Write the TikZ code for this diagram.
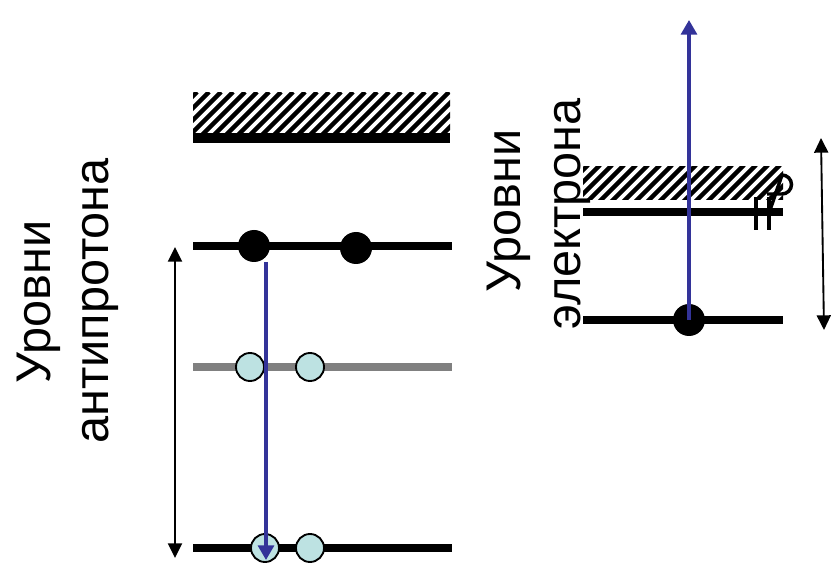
\documentclass[tikz,border=0pt]{standalone}
\usepackage{fontspec}
\setmainfont{Liberation Sans}
\usetikzlibrary{arrows.meta}
\definecolor{holefill}{HTML}{BDE2E2}
\definecolor{transblue}{HTML}{333399}
\begin{document}
\begin{tikzpicture}[x=0.75pt,y=-0.75pt,
  level/.style={line width=6pt},
  glevel/.style={line width=6pt, draw=gray},
  hatchline/.style={line width=3.4pt},
  particle/.style={circle, fill=black, minimum size=24pt, inner sep=0pt},
  hole/.style={circle, draw=black, line width=1.4pt, fill=holefill, minimum size=21pt, inner sep=0pt},
  span/.style={line width=1.4pt, {Triangle[width=10.5pt,length=11pt]}-{Triangle[width=10.5pt,length=11pt]}},
  transition/.style={line width=2.4pt, draw=transblue, -{Triangle[width=12pt,length=11pt]}},
  caption/.style={rotate=90, anchor=base, font=\fontsize{36.5pt}{42pt}\selectfont, inner sep=0pt}]
\useasboundingbox (0,0) rectangle (831,566);

% ---------- antiproton levels ----------
\begin{scope}
  \clip (193,93) rectangle (450,134);
  \foreach \i in {0,...,26} \draw[hatchline] (153+\i*12,136) -- ++(44,-44);
\end{scope}
\draw[line width=7pt] (193,138) -- (450,138);

\draw[level]  (193,246) -- (452,246);
\draw[glevel] (193,367) -- (452,367);
\draw[level]  (193,548) -- (452,548);

\node[particle] (pa) at (254,246) {};
\node[particle] (pb) at (356,248) {};
\node[hole] (ha) at (250,367) {};
\node[hole] (hb) at (310,367) {};
\node[hole] (hc) at (265,548) {};
\node[hole] (hd) at (310,548) {};

\coordinate (ltop) at (175,247);
\coordinate (lbot) at (175,558);
\draw[span] (ltop) -- (lbot);

\coordinate (dstart) at (266,262);
\coordinate (dend) at (266,560);
\draw[transition] (dstart) -- (dend);

\node[caption] (capa1) at (50,302) {Уровни};
\node[caption] (capa2) at (108,301) {антипротона};

% ---------- electron levels ----------
\begin{scope}
  \clip (583,167) rectangle (783,200);
  \foreach \i in {0,...,19} \draw[hatchline] (550+\i*12,203) -- ++(38,-38);
\end{scope}
\draw[level] (583,212) -- (783,212);
\draw[level] (583,320) -- (783,320);

\node[particle] (ea) at (689,320) {};

% small mark at the end of the upper electron level
\draw[line width=2.6pt] (756,197) -- (756,230);
\draw[line width=2.6pt] (769,197) -- (769,230);
\draw[line width=2.6pt] (767,194) -- (782,194) arc[start angle=90, end angle=-90, radius=9.5] -- (769,213);

\coordinate (rtop) at (821,138);
\coordinate (rbot) at (824,330);
\draw[span] (rtop) -- (rbot);

\coordinate (utop) at (689,20);
\draw[transition] (ea.center) -- (utop);

\node[caption] (capb1) at (520,211) {Уровни};
\node[caption] (capb2) at (580,214) {электрона};
\end{tikzpicture}
\end{document}
